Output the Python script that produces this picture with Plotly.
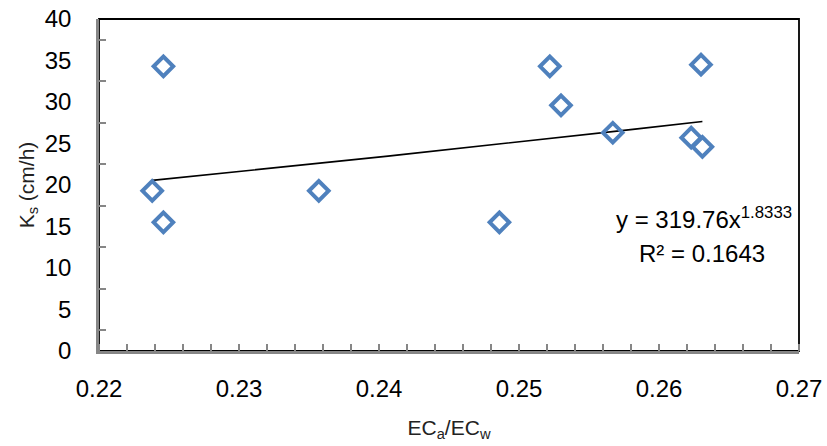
import numpy as np
import plotly.graph_objects as go

# Data
ec_ratio = [0.2246, 0.2238, 0.2246, 0.2357, 0.2486, 0.2522, 0.2530, 0.2567, 0.2623, 0.2630, 0.2631]
ks_values = [34.3, 19.3, 15.5, 19.3, 15.5, 34.3, 29.6, 26.3, 25.7, 34.5, 24.6]

# Power trendline coefficients (as displayed)
coef_a = 319.76
coef_b = 1.8333
r_squared = 0.1643

x_ticks = [0.22, 0.23, 0.24, 0.25, 0.26, 0.27]
y_ticks = [0, 5, 10, 15, 20, 25, 30, 35, 40]

xt = np.linspace(min(ec_ratio), max(ec_ratio), 50)
yt = coef_a * xt ** coef_b

fig = go.Figure()
fig.add_trace(go.Scatter(x=xt, y=yt, mode="lines",
                         line=dict(color="black", width=1.6), hoverinfo="skip"))
fig.add_trace(go.Scatter(x=ec_ratio, y=ks_values, mode="markers",
                         marker=dict(symbol="diamond-open", size=15,
                                     color="#4F81BD", line=dict(width=4, color="#4F81BD"))))

# plot area border (black), drawn under axes
fig.add_shape(type="rect", xref="paper", yref="paper", x0=0, y0=0, x1=1, y1=1,
              line=dict(color="black", width=1.8), layer="below")

axis_gray = "#868686"
fig.update_xaxes(range=[0.22, 0.27], tickvals=x_ticks, automargin=False,
                 ticktext=[f"{v:.2f}" for v in x_ticks],
                 ticks="", showline=True, linecolor=axis_gray, linewidth=2.5,
                 showgrid=False, zeroline=False,
                 minor=dict(ticks="inside", dtick=0.002, tick0=0.22, ticklen=7,
                            tickcolor=axis_gray, tickwidth=1.5, showgrid=False),
                 tickfont=dict(family="Liberation Sans, Arial", size=24, color="black"),
                 ticklabelstandoff=14,
                 title=dict(text="EC<sub>a</sub>/EC<sub>w</sub>",
                            font=dict(family="Liberation Sans, Arial", size=21, color="#222"),
                            standoff=20))
fig.update_yaxes(range=[0, 40], tickvals=y_ticks, automargin=False, ticks="",
                 showline=True, linecolor=axis_gray, linewidth=2.5,
                 showgrid=False, zeroline=False,
                 minor=dict(ticks="inside", dtick=5, tick0=2.5, ticklen=7,
                            tickcolor=axis_gray, tickwidth=1.5, showgrid=False),
                 tickfont=dict(family="Liberation Sans, Arial", size=24, color="black"),
                 ticklabelstandoff=20,
                 title=dict(text="K<sub>s</sub> (cm/h)",
                            font=dict(family="Liberation Sans, Arial", size=21, color="#222"),
                            standoff=5))

fig.add_annotation(x=0.2632, y=16.0, xref="x", yref="y", showarrow=False,
                   text=f"y = {coef_a}x<sup>{coef_b}</sup>",
                   font=dict(family="Liberation Sans, Arial", size=24, color="black"))
fig.add_annotation(x=0.2631, y=11.8, xref="x", yref="y", showarrow=False,
                   text=f"R² = {r_squared}",
                   font=dict(family="Liberation Sans, Arial", size=24, color="black"))

fig.update_layout(width=827, height=446, margin=dict(l=99, r=28, t=19, b=95),
                  plot_bgcolor="white", paper_bgcolor="white", showlegend=False)

fig.write_html("out.html")
